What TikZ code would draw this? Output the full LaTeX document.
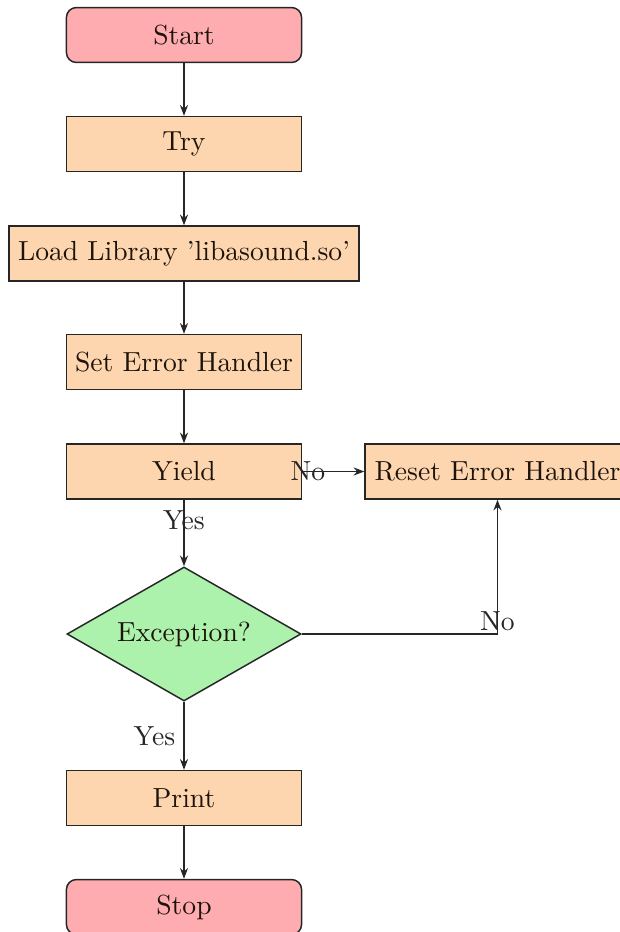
\documentclass[tikz,border=0pt]{standalone}
\usetikzlibrary{shapes.geometric,arrows.meta}
\definecolor{termfill}{RGB}{255,172,176}
\definecolor{procfill}{RGB}{253,214,176}
\definecolor{decfill}{RGB}{172,242,172}
\tikzset{
  base/.style={draw=black!85, line width=0.55pt, text=black!85!brown, align=center, inner sep=2pt,
    font=\fontsize{10.3}{12}\selectfont},
  termbox/.style={base, rectangle, rounded corners=3.7pt, fill=termfill, minimum width=87.7pt, minimum height=20.5pt},
  procbox/.style={base, rectangle, fill=procfill, minimum width=87.7pt, minimum height=20.5pt},
  decbox/.style={base, diamond, aspect=1.75, fill=decfill, inner sep=0pt, minimum width=87.3pt, minimum height=50pt},
  flow/.style={draw=black!85, line width=0.55pt, -{Stealth[length=4pt,width=3pt]}},
  lbl/.style={text=black!85, inner sep=1pt, font=\fontsize{10.3}{12}\selectfont}
}
\begin{document}
\begin{tikzpicture}[x=0.373pt, y=-0.373pt]
\useasboundingbox (0,0) rectangle (619,932);
\node[termbox] (start) at (184,35) {Start};
\node[procbox] (try) at (184,144) {Try};
\node[procbox, minimum width=130.6pt] (load) at (184,253.5) {Load Library 'libasound.so'};
\node[procbox] (seh) at (184,362) {Set Error Handler};
\node[procbox] (yield) at (184,471.5) {Yield};
\node[procbox, minimum width=98.8pt] (reset) at (497.5,471.5) {Reset Error Handler};
\node[decbox] (exc) at (184,634) {Exception?};
\node[procbox] (print) at (184,798) {Print};
\node[termbox] (stop) at (184,907) {Stop};

\draw[flow] (start) -- (try);
\draw[flow] (try) -- (load);
\draw[flow] (load) -- (seh);
\draw[flow] (seh) -- (yield);
\draw[flow] (yield) -- node[lbl, pos=0.09] {No} (reset);
\draw[flow] (yield) -- node[lbl, pos=0.31] {Yes} (exc);
\draw[flow] (exc.east) -| node[lbl, pos=0.5, above] {No} (reset.south);
\draw[flow] (exc) -- node[lbl, left=2pt] {Yes} (print);
\draw[flow] (print) -- (stop);
\end{tikzpicture}
\end{document}
